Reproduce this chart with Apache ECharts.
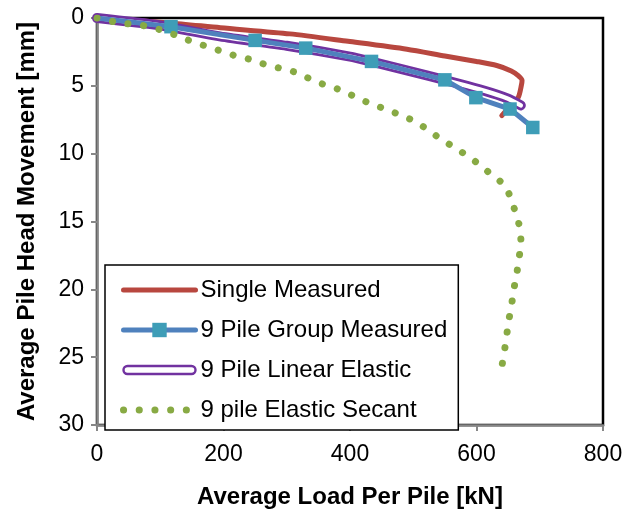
<!DOCTYPE html>
<html>
<head>
<meta charset="utf-8">
<script src="https://cdn.jsdelivr.net/npm/echarts@6/dist/echarts.min.js"></script>
<style>
  html, body { margin: 0; padding: 0; background: #fff; }
  #chart { width: 635px; height: 514px; }
</style>
</head>
<body>
<div id="chart"></div>
<script>
// Load-settlement curves: average load per pile [kN] vs average pile head movement [mm]
const seriesNames = ['Single Measured', '9 Pile Group Measured', '9 Pile Linear Elastic', '9 pile Elastic Secant'];

const singleLoad = [0, 115, 195, 305, 397, 490, 550, 600, 632, 655, 666, 672, 671, 666, 653, 640];
const singleMove = [0, 0.36, 0.72, 1.17, 1.72, 2.3, 2.8, 3.2, 3.5, 3.9, 4.25, 4.6, 4.95, 5.85, 6.5, 7.2];

const groupLoad = [0, 117, 250, 330, 434, 550, 599, 653, 689];
const groupMove = [0, 0.64, 1.65, 2.22, 3.2, 4.56, 5.87, 6.71, 8.07];

const linearLoad = [0, 100, 194, 300, 400, 434, 526, 613, 650, 670];
const linearMove = [0, 0.55, 1.35, 2.05, 2.85, 3.22, 4.28, 5.37, 5.95, 6.44];

const secantLoad = [0, 24.8, 49, 74.3, 99.6, 123, 145.5, 170.7, 194.5, 218, 243, 267, 291, 315.7, 337.9, 362,
  386.9, 409.3, 433, 457, 480, 504, 525.7, 545.4, 566.8, 588, 605.5, 625, 644, 654.5, 662, 668.8, 670.3,
  667, 663.5, 659, 655.6, 651, 647.7, 644, 640];
const secantMove = [0, 0.26, 0.43, 0.57, 0.86, 1.24, 1.65, 2.05, 2.41, 2.77, 3.06, 3.44, 3.72, 4.03, 4.51, 4.96,
  5.33, 5.84, 6.32, 6.73, 7.16, 7.65, 8.33, 8.98, 9.59, 10.24, 10.83, 11.6, 12.3, 13.3, 14.4, 15.5, 16.6,
  17.76, 18.9, 20.0, 21.1, 22.3, 23.4, 24.6, 25.7];

const xTicks = { min: 0, max: 800, step: 200 };
const yTicks = { min: 0, max: 30, step: 5 };

const pair = (xs, ys) => xs.map((x, i) => [x, ys[i]]);

const FONT = 'Liberation Sans, Arial, sans-serif';
const RED = '#b8473f';
const BLUE = '#4f81bd';
const TEAL = '#3e9db7';
const PURPLE = '#7132a0';
const GREEN = '#88aa44';
const AXIS_GRAY = '#878787';

const groupData = pair(groupLoad, groupMove).map((p, i) =>
  i === 0 ? { value: p, symbol: 'none' } : { value: p });

const chart = echarts.init(document.getElementById('chart'), null, { renderer: 'canvas' });

chart.setOption({
  animation: false,
  backgroundColor: '#fff',
  grid: {
    left: 97, top: 18, width: 506, height: 419,
    show: true, borderColor: '#000', borderWidth: 2.5, backgroundColor: 'transparent'
  },
  xAxis: {
    type: 'value',
    min: xTicks.min, max: xTicks.max, interval: xTicks.step,
    position: 'bottom',
    name: 'Average Load Per Pile [kN]',
    nameLocation: 'middle',
    nameGap: 60,
    nameTextStyle: { fontFamily: FONT, fontSize: 24, fontWeight: 'bold', color: '#000' },
    axisLine: { show: true, onZero: false, lineStyle: { color: AXIS_GRAY, width: 2.5 } },
    axisTick: { show: true, inside: false, length: 6, lineStyle: { color: AXIS_GRAY, width: 2 } },
    axisLabel: { fontFamily: FONT, fontSize: 23, color: '#000', margin: 18 },
    splitLine: { show: false }
  },
  yAxis: {
    type: 'value',
    inverse: true,
    min: yTicks.min, max: yTicks.max, interval: yTicks.step,
    name: 'Average Pile Head Movement [mm]',
    nameLocation: 'middle',
    nameGap: 58,
    nameRotate: 90,
    nameTextStyle: { fontFamily: FONT, fontSize: 24, fontWeight: 'bold', color: '#000' },
    axisLine: { show: true, onZero: false, lineStyle: { color: AXIS_GRAY, width: 2.5 } },
    axisTick: { show: true, inside: false, length: 6, lineStyle: { color: AXIS_GRAY, width: 2 } },
    axisLabel: { fontFamily: FONT, fontSize: 23, color: '#000', margin: 13 },
    splitLine: { show: false }
  },
  legend: {
    orient: 'vertical',
    left: 105, top: 265,
    padding: [13, 11, 8, 15],
    itemWidth: 72,
    itemHeight: 18,
    itemGap: 16,
    symbolKeepAspect: true,
    backgroundColor: '#fff',
    borderColor: '#000',
    borderWidth: 1.5,
    borderRadius: 0,
    selectedMode: false,
    lineStyle: { width: 'inherit' },
    textStyle: { fontFamily: FONT, fontSize: 24, color: '#000', lineHeight: 24 },
    data: [
      { name: seriesNames[0], itemStyle: { opacity: 0 } },
      { name: seriesNames[1] },
      {
        name: seriesNames[2],
        icon: 'path://M4,0L68,0A4,4,0,0,1,68,8L4,8A4,4,0,0,1,4,0Z',
        itemStyle: { color: '#fff', borderColor: PURPLE, borderWidth: 2.4 }
      },
      { name: seriesNames[3], itemStyle: { opacity: 0 } }
    ]
  },
  series: [
    {
      name: seriesNames[0],
      type: 'line',
      data: pair(singleLoad, singleMove),
      smooth: 0.25,
      showSymbol: false,
      symbol: 'none',
      lineStyle: { color: RED, width: 5, cap: 'round', join: 'round' },
      itemStyle: { color: RED },
      z: 2
    },
    {
      name: seriesNames[2],
      type: 'line',
      data: pair(linearLoad, linearMove),
      smooth: 0.25,
      symbol: 'none',
      lineStyle: { color: PURPLE, width: 10, cap: 'round', join: 'round' },
      itemStyle: { color: PURPLE },
      z: 3
    },
    {
      // hollow core of the double-stroke line
      name: 'linear-elastic-core',
      type: 'line',
      data: pair(linearLoad, linearMove),
      smooth: 0.25,
      symbol: 'none',
      lineStyle: { color: '#fff', width: 4.5, cap: 'round', join: 'round' },
      itemStyle: { color: '#fff' },
      silent: true,
      z: 4
    },
    {
      name: seriesNames[1],
      type: 'line',
      data: groupData,
      symbol: 'rect',
      symbolSize: 13.5,
      showAllSymbol: true,
      lineStyle: { color: BLUE, width: 5, cap: 'round', join: 'round' },
      itemStyle: { color: TEAL, borderWidth: 0 },
      z: 5
    },
    {
      name: seriesNames[3],
      type: 'line',
      data: pair(secantLoad, secantMove),
      smooth: 0.2,
      symbol: 'none',
      lineStyle: { color: GREEN, width: 7, type: [0.1, 15.6], cap: 'round', join: 'round' },
      itemStyle: { color: GREEN },
      z: 6
    }
  ]
});
</script>
</body>
</html>
